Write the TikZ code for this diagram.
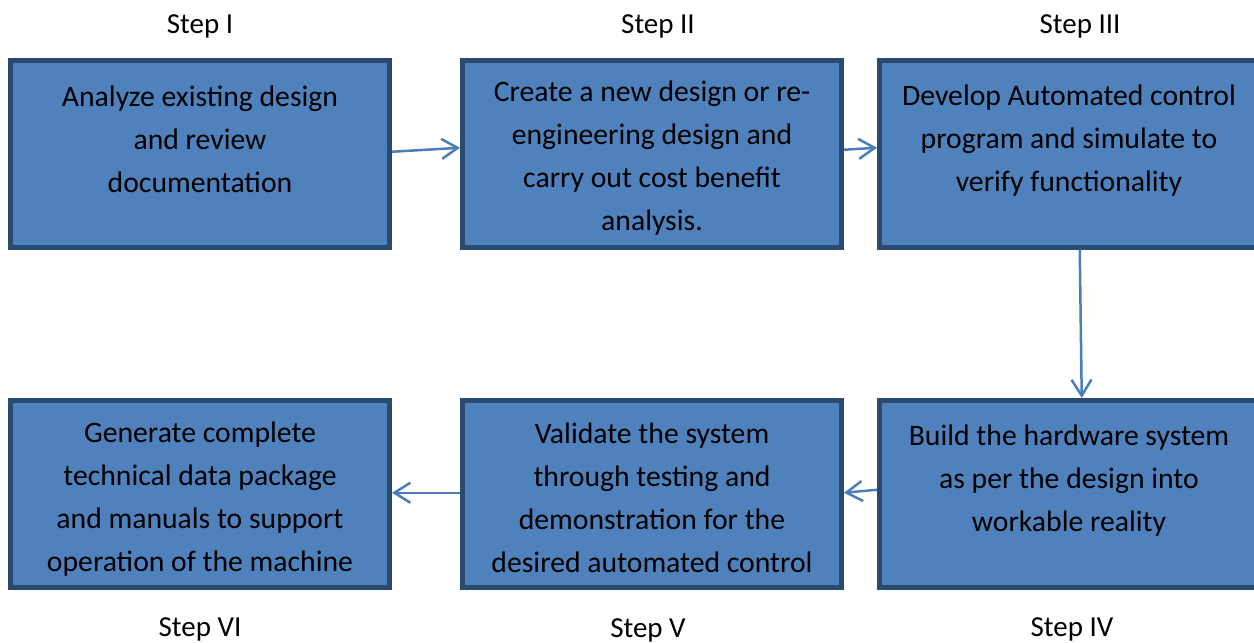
\documentclass[tikz,border=0pt]{standalone}
\usepackage{fontspec}
\setmainfont{Carlito}
\usetikzlibrary{arrows.meta,calc}
\definecolor{boxfill}{HTML}{4F81BD}
\definecolor{boxline}{HTML}{2B4A70}
\definecolor{arrowblue}{HTML}{4A7EBB}
\begin{document}
\begin{tikzpicture}[x=1pt,y=-1pt,
  stepbox/.style={draw=boxline, fill=boxfill, line width=5pt, minimum height=186.5pt},
  boxtext/.style={align=center, font=\fontsize{29.7}{43}\selectfont, inner sep=0pt},
  steplabel/.style={font=\fontsize{29}{35}\selectfont, inner sep=0pt},
  link/.style={draw=arrowblue, line width=2.5pt,
    -{Straight Barb[length=16pt,width=20pt,line width=2.5pt]}}]
\useasboundingbox (0,0) rectangle (1254,643);
\clip (0,0) rectangle (1254,643);

% process boxes
\node[stepbox, minimum width=379.5pt] (b1) at (199.75,153.75) {};
\node[stepbox, minimum width=379pt]   (b2) at (652,153.75) {};
\node[stepbox, minimum width=380.5pt] (b3) at (1069.75,153.75) {};
\node[stepbox, minimum width=380.5pt] (b4) at (1069.75,493.75) {};
\node[stepbox, minimum width=379pt]   (b5) at (652,493.75) {};
\node[stepbox, minimum width=379.5pt] (b6) at (199.75,493.75) {};

% box texts
\node[boxtext] (t1) at (200,139) {Analyze existing design\\and review\\documentation};
\node[boxtext] (t2) at (652,158) {Create a new design or re-\\engineering design and\\carry out cost benefit\\analysis.};
\node[boxtext] (t3) at (1069,140.5) {Develop Automated control\\program and simulate to\\verify functionality};
\node[boxtext] (t4) at (1069,481) {Build the hardware system\\as per the design into\\workable reality};
\node[boxtext] (t5) at (652,498) {Validate the system\\through testing and\\demonstration for the\\desired automated control};
\node[boxtext] (t6) at (200,499) {Generate complete\\technical data package\\and manuals to support\\operation of the machine};

% step labels
\node[steplabel] (l1) at (200,26.5) {Step I};
\node[steplabel] (l2) at (658,26.5) {Step II};
\node[steplabel] (l3) at (1080,26.5) {Step III};
\node[steplabel] (l4) at (1072,629) {Step IV};
\node[steplabel] (l5) at (648,630) {Step V};
\node[steplabel] (l6) at (200,629) {Step VI};

% flow arrows
\draw[link] ($(b1.east)+(0,-2)$) -- ($(b2.west)+(0,-6)$);
\draw[link] ($(b2.east)+(0,-4)$) -- ($(b3.west)+(0,-6)$);
\draw[link] ($(b3.south)+(10,0)$) -- ($(b4.north)+(12,0)$);
\draw[link] ($(b4.west)+(0,-4)$) -- ($(b5.east)+(0,-1)$);
\draw[link] ($(b5.west)+(0,-1)$) -- ($(b6.east)+(0,-1)$);
\end{tikzpicture}
\end{document}
